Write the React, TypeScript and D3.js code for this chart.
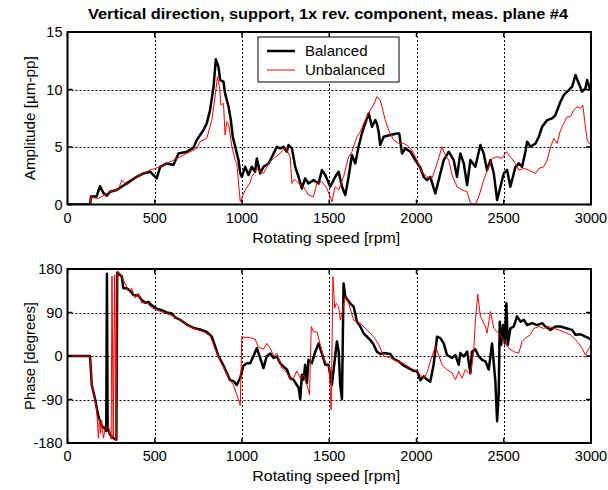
import React from "react";
import * as d3 from "d3";

const titleText = "Vertical direction, support, 1x rev. component, meas. plane #4";
const xTicks = [0, 500, 1000, 1500, 2000, 2500, 3000];
const ampTicks = [0, 5, 10, 15];
const phaseTicks = [-180, -90, 0, 90, 180];
const legendLabels = ["Balanced", "Unbalanced"];

const balAmpRpm = [0,129,135,167,186,206,225,244,282,339,397,435,473,511,531,569,607,636,684,722,741,760,779,798,817,837,850,865,875,894,903,923,936,947,961,980,990,999,1018,1037,1056,1075,1085,1104,1123,1152,1181,1200,1219,1238,1257,1267,1286,1305,1324,1343,1362,1381,1410,1439,1458,1477,1506,1534,1554,1573,1592,1611,1630,1649,1668,1687,1706,1726,1745,1764,1773,1783,1792,1812,1850,1888,1901,1917,1936,1965,1993,2022,2041,2060,2079,2108,2127,2156,2185,2213,2232,2251,2271,2290,2309,2337,2366,2385,2404,2424,2443,2462,2481,2500,2519,2538,2567,2586,2605,2624,2634,2653,2682,2701,2720,2749,2777,2796,2825,2844,2863,2873,2892,2911,2930,2949,2968,2978,2993,3000];
const balAmp = [0,0,0.7,0.7,1.6,1.0,0.76,1.11,1.26,1.84,2.41,2.7,2.85,2.27,3.28,3.57,3.43,4.44,4.59,4.94,5.6,6.04,6.47,7.05,8.21,10.24,12.62,11.98,10.82,10.68,9.66,8.5,7.34,5.89,5.02,3.86,2.7,2.41,3.28,2.56,3.28,2.85,4.01,2.7,3.28,3.57,4.44,5.02,4.88,5.02,4.59,5.17,4.88,3.28,2.41,1.4,2.27,1.83,2.12,1.83,3.0,2.56,1.54,2.41,2.85,1.54,0.82,2.41,4.3,3.57,5.02,6.18,7.05,7.92,6.76,7.34,7.05,6.33,5.17,5.89,6.04,6.18,6.18,4.44,4.88,4.59,3.86,3.2,2.41,2.12,2.41,0.97,2.12,3.86,4.59,3.86,2.41,4.44,3.57,1.69,3.86,3.28,5.17,4.44,2.99,3.86,2.7,0.39,1.54,2.7,3.0,1.54,3.28,3.57,3.28,4.59,5.46,5.02,5.31,5.89,6.76,7.34,7.49,7.78,8.94,9.52,9.81,9.95,10.24,11.26,10.53,9.81,10.1,10.82,10.1,9.95];

const unbAmpRpm = [0,129,135,177,244,292,311,339,416,473,531,607,684,741,760,798,827,846,859,871,879,894,903,913,923,942,961,970,990,1018,1047,1056,1085,1123,1152,1181,1219,1248,1276,1286,1300,1320,1353,1381,1410,1429,1458,1487,1515,1534,1554,1582,1611,1630,1659,1678,1706,1735,1754,1773,1792,1802,1821,1840,1869,1898,1926,1945,1974,2003,2031,2060,2089,2118,2146,2165,2185,2204,2232,2261,2290,2309,2337,2357,2385,2414,2433,2462,2490,2515,2538,2567,2586,2615,2643,2682,2701,2729,2749,2768,2787,2806,2825,2844,2863,2882,2901,2921,2940,2953,2968,2978,2993,3000];
const unbAmp = [0,0,0.6,0.53,1.11,1.3,2.12,1.69,2.56,2.99,3.28,3.86,4.44,4.88,5.46,5.75,7.34,9.37,11.11,10.24,8.65,8.79,6.04,7.2,7.05,5.02,3.86,3.57,0.24,1.26,1.9,2.41,3.1,2.7,3.57,4.01,4.44,5.02,4.15,1.83,2.2,1.9,1.54,0.82,0.68,1.83,1.98,1.4,0.24,1.54,1.26,2.41,4.15,4.59,5.89,6.33,7.34,8.21,8.65,9.37,9.08,8.5,7.34,6.47,5.6,5.31,5.31,5.17,4.73,3.86,2.85,2.41,2.27,3.57,5.02,4.3,3.86,2.56,1.54,1.26,1.11,0.1,0.0,0.68,2.12,3.28,4.01,4.15,4.01,4.59,4.15,3.57,2.99,3.14,2.99,2.7,3.14,3.28,3.86,5.02,5.75,5.31,6.47,7.05,7.63,7.63,8.21,8.5,8.36,8.65,6.76,5.6,5.25,5.2];

const balPhaseRpm = [0,129,139,158,177,196,215,222,226,230,244,263,280,285,292,311,320,339,359,378,406,425,445,464,483,511,540,569,598,617,645,684,722,760,798,827,846,865,894,913,932,951,970,990,1008,1028,1047,1066,1085,1104,1123,1142,1162,1181,1200,1219,1238,1257,1276,1295,1314,1324,1334,1343,1353,1362,1372,1381,1400,1420,1439,1458,1477,1496,1515,1525,1544,1554,1563,1573,1582,1592,1601,1620,1640,1659,1678,1697,1716,1735,1754,1773,1792,1812,1850,1869,1898,1926,1955,1984,2003,2022,2041,2060,2079,2098,2118,2137,2156,2175,2204,2223,2242,2251,2271,2290,2309,2318,2337,2357,2376,2395,2414,2433,2452,2462,2471,2477,2485,2496,2506,2515,2523,2538,2557,2576,2596,2615,2634,2663,2691,2720,2739,2768,2796,2825,2863,2892,2911,2940,2968,2988,3000];
const balPhase = [0,0,-60,-89,-125,-145,-150,-155,170,-150,-163,-170,-173,172,170,165,140,140,135,126,125,116,110,112,105,98,95,90,88,80,75,65,58,55,50,40,20,0,-20,-35,-50,-52,-60,-45,-20,-15,-15,0,16,-4,-25,0,5,-4,-1,-15,-22,-28,-46,-49,-60,-65,-89,-39,-49,-18,-56,-8,-15,9,26,5,-18,-18,-60,-28,30,9,-60,-89,150,123,118,109,102,71,61,47,40,33,24,9,4,6,4,-6,-11,-20,-25,-31,-31,-50,-42,-49,-53,-18,40,37,26,2,-4,2,-18,6,-1,9,-35,9,14,-1,-8,-11,-28,26,-53,-135,-80,71,23,64,26,109,23,57,61,82,71,75,64,68,64,68,61,54,61,61,57,54,44,45,40,37,33];

const unbPhaseRpm = [0,129,139,148,167,177,183,190,196,206,215,234,244,250,255,262,270,278,285,292,311,330,349,368,387,406,425,454,483,511,550,588,626,665,703,741,779,817,846,875,903,932,951,970,990,999,1028,1047,1075,1094,1123,1142,1162,1181,1200,1228,1257,1276,1295,1314,1334,1353,1372,1387,1397,1410,1429,1448,1468,1487,1500,1511,1521,1531,1540,1554,1563,1573,1592,1611,1640,1678,1716,1754,1783,1812,1850,1888,1926,1965,2003,2022,2041,2060,2079,2098,2108,2127,2146,2175,2204,2223,2242,2261,2280,2309,2328,2337,2351,2366,2395,2404,2424,2443,2471,2500,2529,2557,2586,2605,2624,2653,2672,2701,2729,2758,2787,2815,2844,2882,2921,2949,2968,2988,3000];
const unbPhase = [0,0,-60,-75,-110,-170,-130,-160,-133,-170,-150,-145,-160,-172,165,-170,168,-175,175,175,165,150,135,140,120,130,110,110,100,95,90,85,80,70,60,55,50,42,15,-10,-30,-50,-60,-80,-102,40,38,38,35,19,14,26,16,0,6,-25,-35,-46,-46,-31,-46,-39,-60,-80,61,50,50,24,-4,-18,-25,-111,164,99,109,102,74,88,123,109,74,68,54,40,24,0,-4,-11,-15,-25,-31,-39,-46,-35,-11,9,20,2,-18,-28,-35,-49,-32,-46,-28,-39,9,71,128,82,61,47,92,57,47,33,16,9,6,30,37,44,57,61,57,61,57,54,50,44,30,16,2,16,23];

const W = 608;
const H = 490;
const X0 = 67.5;
const X1 = 591;
const FONT = "'Liberation Sans', Arial, Helvetica, sans-serif";

type Series = { rpm: number[]; vals: number[]; color: string; width: number };

function Panel(props: {
  top: number;
  bottom: number;
  domain: [number, number];
  yTicks: number[];
  ylabel: string;
  ylabelLen: number;
  series: Series[];
  id: string;
  children?: React.ReactNode;
}) {
  const { top, bottom, domain, yTicks, ylabel, series, id, ylabelLen } = props;
  const x = d3.scaleLinear().domain([0, 3000]).range([X0, X1]);
  const y = d3.scaleLinear().domain(domain).range([bottom, top]);
  const tickLen = 5;
  return (
    <g>
      <defs>
        <clipPath id={id}>
          <rect x={X0} y={top} width={X1 - X0} height={bottom - top} />
        </clipPath>
      </defs>
      <rect x={X0} y={top} width={X1 - X0} height={bottom - top} fill="#fff" />
      {xTicks.slice(1, -1).map((t) => (
        <line key={"gx" + t} x1={Math.round(x(t)) + 0.5} x2={Math.round(x(t)) + 0.5} y1={top} y2={bottom} stroke="#000" strokeWidth={1} strokeDasharray="2,2" />
      ))}
      {yTicks.slice(1, -1).map((t) => (
        <line key={"gy" + t} x1={X0} x2={X1} y1={Math.round(y(t)) + 0.5} y2={Math.round(y(t)) + 0.5} stroke="#000" strokeWidth={1} strokeDasharray="2,2" />
      ))}
      <g clipPath={`url(#${id})`}>
        {series.map((s, i) => {
          const pts = s.rpm.map((r, k) => [r, s.vals[k]] as [number, number]);
          const line = d3.line<[number, number]>().x((d) => x(d[0])).y((d) => y(d[1]));
          return (
            <path key={i} d={line(pts) || ""} fill="none" stroke={s.color} strokeWidth={s.width} strokeLinejoin="round" />
          );
        })}
      </g>
      {xTicks.map((t) => (
        <g key={"tx" + t}>
          <line x1={x(t)} x2={x(t)} y1={bottom} y2={bottom - tickLen} stroke="#000" strokeWidth={1.5} />
          <line x1={x(t)} x2={x(t)} y1={top} y2={top + tickLen} stroke="#000" strokeWidth={1.5} />
          <text x={x(t)} y={bottom + 18} textAnchor="middle" fontSize={14.5} fontFamily={FONT} fill="#000">
            {t}
          </text>
        </g>
      ))}
      {yTicks.map((t) => (
        <g key={"ty" + t}>
          <line x1={X0} x2={X0 + tickLen} y1={y(t)} y2={y(t)} stroke="#000" strokeWidth={1.5} />
          <line x1={X1} x2={X1 - tickLen} y1={y(t)} y2={y(t)} stroke="#000" strokeWidth={1.5} />
          <text x={X0 - 5} y={y(t) + 5} textAnchor="end" fontSize={14.5} fontFamily={FONT} fill="#000">
            {t}
          </text>
        </g>
      ))}
      <rect x={X0} y={top} width={X1 - X0} height={bottom - top} fill="none" stroke="#000" strokeWidth={2} />
      <text x={(X0 + X1) / 2 - 3} y={bottom + 38} textAnchor="middle" fontSize={15} fontFamily={FONT} fill="#000" textLength={148} lengthAdjust="spacingAndGlyphs">
        Rotating speed [rpm]
      </text>
      <text
        transform={`translate(${X0 - 33},${(top + bottom) / 2}) rotate(-90)`}
        textAnchor="middle"
        fontSize={15}
        fontFamily={FONT}
        fill="#000"
        textLength={ylabelLen}
        lengthAdjust="spacingAndGlyphs"
      >
        {ylabel}
      </text>
      {props.children}
    </g>
  );
}

export default function App() {
  return (
    <svg
      width={W}
      height={H}
      viewBox={`0 0 ${W} ${H}`}
      style={{ position: "absolute", left: 0, top: 0, background: "#fff" }}
    >
      <rect x={0} y={0} width={W} height={H} fill="#fff" />
      <text x={328} y={18.5} textAnchor="middle" fontSize={14} fontWeight="bold" fontFamily={FONT} fill="#000" textLength={480} lengthAdjust="spacingAndGlyphs">
        {titleText}
      </text>
      <Panel
        id="clipA"
        top={32}
        bottom={204.5}
        domain={[0, 15]}
        yTicks={ampTicks}
        ylabel="Amplitude [µm-pp]"
        ylabelLen={124}
        series={[
          { rpm: balAmpRpm, vals: balAmp, color: "#000", width: 2.5 },
          { rpm: unbAmpRpm, vals: unbAmp, color: "#ff0000", width: 1 },
        ]}
      >
        <g>
          <rect x={258} y={37} width={141} height={45} fill="#fff" stroke="#000" strokeWidth={1} />
          <line x1={267} x2={295} y1={51} y2={51} stroke="#000" strokeWidth={2.5} />
          <line x1={267} x2={295} y1={70} y2={70} stroke="#ff0000" strokeWidth={1} />
          <text x={305} y={56} fontSize={15} fontFamily={FONT} fill="#000">{legendLabels[0]}</text>
          <text x={305} y={75} fontSize={15} fontFamily={FONT} fill="#000">{legendLabels[1]}</text>
        </g>
      </Panel>
      <Panel
        id="clipB"
        top={269}
        bottom={443}
        domain={[-180, 180]}
        yTicks={phaseTicks}
        ylabel="Phase [degrees]"
        ylabelLen={108}
        series={[
          { rpm: balPhaseRpm, vals: balPhase, color: "#000", width: 2.5 },
          { rpm: unbPhaseRpm, vals: unbPhase, color: "#ff0000", width: 1 },
        ]}
      />
    </svg>
  );
}
